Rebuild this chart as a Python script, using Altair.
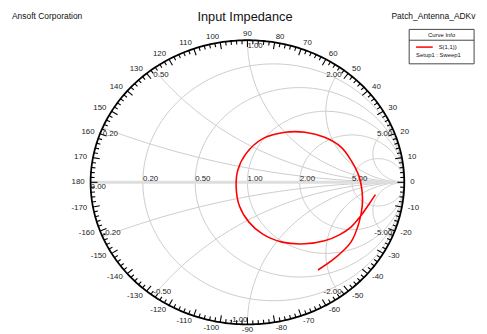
import altair as alt
import numpy as np
import pandas as pd

FONT = "Liberation Sans"

# ---- Smith chart grid values ----
r_values = [0.2, 0.5, 1.0, 2.0, 5.0]
x_values = [0.2, 0.5, 1.0, 2.0, 5.0, -0.2, -0.5, -1.0, -2.0, -5.0]
angle_labels = list(range(-170, 181, 10))
tick_angles = list(range(-178, 181, 2))

# ---- S(1,1) trace (reflection coefficient re / im) ----
s11_re = [0.816, 0.774, 0.722, 0.660, 0.586, 0.492, 0.367, 0.221, 0.095, 0.011,
          -0.051, -0.072, -0.061, -0.009, 0.095, 0.241, 0.367, 0.492, 0.597, 0.660,
          0.712, 0.732, 0.732, 0.712, 0.660, 0.555, 0.450]
s11_im = [-0.087, -0.156, -0.237, -0.315, -0.370, -0.412, -0.433, -0.421, -0.363, -0.282,
          -0.167, -0.029, 0.087, 0.202, 0.306, 0.352, 0.352, 0.317, 0.248, 0.156,
          0.040, -0.075, -0.167, -0.282, -0.421, -0.536, -0.617]

# ---- layout ----
W, H = 479, 326
CX, CY, RX, RY = 243.5, 174.5, 159.5, 144.5   # chart centre / radii in px
xs = alt.Scale(domain=[(0 - CX) / RX, (W - CX) / RX], nice=False, zero=False)
ys = alt.Scale(domain=[(CY - H) / RY, CY / RY], nice=False, zero=False)
X = alt.X("re:Q", scale=xs, axis=None)
Y = alt.Y("im:Q", scale=ys, axis=None)
X2 = alt.X2("re2:Q")
Y2 = alt.Y2("im2:Q")

# grid curves
rows = []
t = np.linspace(0, 2 * np.pi, 241)
for r in r_values:
    c, rad = r / (1 + r), 1 / (1 + r)
    for k, tt in enumerate(t):
        rows.append(dict(id=f"r{r}", k=k, re=c + rad * np.cos(tt), im=rad * np.sin(tt)))
rr = np.concatenate([[0.0], np.logspace(-3, 3.5, 200)])
for xv in x_values:
    g = (rr + 1j * xv - 1) / (rr + 1j * xv + 1)
    for k, gg in enumerate(g):
        rows.append(dict(id=f"x{xv}", k=k, re=gg.real, im=gg.imag))
grid_df = pd.DataFrame(rows)

outer_t = np.linspace(0, 2 * np.pi, 361)
outer_df = pd.DataFrame(dict(k=range(len(outer_t)), re=np.cos(outer_t), im=np.sin(outer_t)))

axis_df = pd.DataFrame(dict(re=[-1.0], re2=[1.0], im=[0.0]))

trows = []
for a in tick_angles:
    L = 7 if a % 10 == 0 else 4
    ca, sa = np.cos(np.radians(a)), np.sin(np.radians(a))
    trows.append(dict(re=ca, im=sa, re2=ca * (1 - L / RX), im2=sa * (1 - L / RY)))
tick_df = pd.DataFrame(trows)

arows = []
for a in angle_labels:
    ca, sa = np.cos(np.radians(a)), np.sin(np.radians(a))
    al = "center" if abs(ca) < 0.01 else ("left" if ca > 0 else "right")
    arows.append(dict(label=str(a), re=ca * (1 + 6 / RX), im=sa * (1 + 6 / RY), al=al))
ang_df = pd.DataFrame(arows)

r_lab_df = pd.DataFrame(dict(label=[f"{r:.2f}" for r in r_values],
                             re=[(r - 1) / (r + 1) for r in r_values], im=[0.0] * len(r_values)))
zero_df = pd.DataFrame(dict(label=["0.00"], re=[-1.0], im=[0.0]))

xrows = []
for xv in x_values:
    g = (1j * xv - 1) / (1j * xv + 1)
    al = "left" if (g.real < -0.01 or xv == 1.0) else "right"
    bl = "top" if xv > 0 else "bottom"
    xrows.append(dict(label=f"{xv:.2f}", re=g.real, im=g.imag, al=al, bl=bl))
x_lab_df = pd.DataFrame(xrows)

s11_df = pd.DataFrame(dict(k=range(len(s11_re)), re=s11_re, im=s11_im))


def txt(df, align, baseline, size=8, dx=0, dy=0, color="#222222"):
    return alt.Chart(df).mark_text(align=align, baseline=baseline, fontSize=size, font=FONT,
                                   color=color, dx=dx, dy=dy).encode(x=X, y=Y, text="label:N")


def vtext(s, x, y, size, align="left", baseline="middle", color="#111111"):
    return alt.Chart(pd.DataFrame(dict(label=[s]))).mark_text(
        align=align, baseline=baseline, fontSize=size, font=FONT, color=color
    ).encode(x=alt.value(x), y=alt.value(y), text="label:N")


layers = [
    alt.Chart(grid_df).mark_line(color="#cbcbcb", strokeWidth=1).encode(
        x=X, y=Y, detail="id:N", order="k:Q"),
    alt.Chart(axis_df).mark_rule(color="#dedede", strokeWidth=3).encode(x=X, x2=X2, y=Y),
    alt.Chart(outer_df).mark_line(color="black", strokeWidth=1.8).encode(x=X, y=Y, order="k:Q"),
    alt.Chart(tick_df).mark_rule(color="black", strokeWidth=1.1).encode(x=X, y=Y, x2=X2, y2=Y2),
]
for al in ["left", "right", "center"]:
    layers.append(txt(ang_df[ang_df.al == al], al, "middle", size=8))
layers.append(txt(r_lab_df, "left", "alphabetic", size=8, dy=-1))
layers.append(txt(zero_df, "left", "top", size=8, dy=1))
for al in ["left", "right"]:
    for bl in ["top", "bottom"]:
        sub = x_lab_df[(x_lab_df.al == al) & (x_lab_df.bl == bl)]
        if len(sub):
            layers.append(txt(sub, al, bl, size=8, dy=(2 if bl == "top" else 0)))

layers.append(alt.Chart(s11_df).mark_line(color="#ff0000", strokeWidth=1.6,
                                          interpolate="catmull-rom").encode(
    x=X, y=Y, order="k:Q"))

# titles (screen px minus 8px page margin)
layers += [
    vtext("Ansoft Corporation", 4, 5.5, 8.6),
    vtext("Input Impedance", 241, 6.5, 13, align="center"),
    vtext("Patch_Antenna_ADKv", 390, 5.5, 8.6),
]
# legend box
legend_box = pd.DataFrame(dict(a=[0]))
layers += [
    alt.Chart(legend_box).mark_rect(fill="white", stroke="#444444", strokeWidth=1).encode(
        x=alt.value(408), x2=alt.value(474), y=alt.value(19), y2=alt.value(54)),
    alt.Chart(legend_box).mark_rule(color="#444444", strokeWidth=1).encode(
        x=alt.value(408), x2=alt.value(474), y=alt.value(30)),
    alt.Chart(legend_box).mark_rule(color="#ff0000", strokeWidth=1.5).encode(
        x=alt.value(415), x2=alt.value(432), y=alt.value(37)),
    vtext("Curve Info", 441, 25, 6, align="center"),
    vtext("S(1,1))", 438, 37, 6),
    vtext("Setup1 : Sweep1", 415, 45.5, 6),
]

chart = alt.layer(*layers).properties(
    width=W, height=H, padding=0, autosize="none"
).configure_view(stroke=None)

chart.save("out.html", embed_options={"renderer": "svg", "actions": False})
